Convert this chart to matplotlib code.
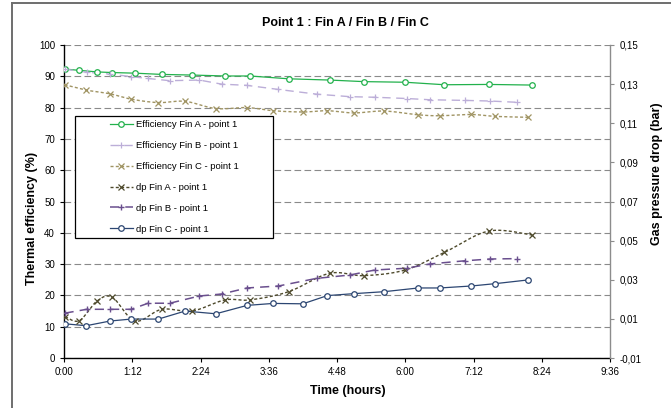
import numpy as np
import matplotlib
matplotlib.use("Agg")
import matplotlib.pyplot as plt
from matplotlib.lines import Line2D
from matplotlib.patches import Rectangle
from matplotlib.ticker import FuncFormatter

plt.rcParams['font.family'] = ['Liberation Sans', 'DejaVu Sans']

# ---------------- data ----------------
title = "Point 1 : Fin A / Fin B / Fin C"
xlabel = "Time (hours)"
ylabel_left = "Thermal efficiency (%)"
ylabel_right = "Gas pressure drop (bar)"

series_labels = ["Efficiency Fin A - point 1", "Efficiency Fin B - point 1",
                 "Efficiency Fin C - point 1", "dp Fin A - point 1",
                 "dp Fin B - point 1", "dp Fin C - point 1"]

# time in hours
t_A = [0.02, 0.27, 0.58, 0.85, 1.25, 1.72, 2.25, 2.83, 3.27, 3.95, 4.67, 5.27, 6.00, 6.69, 7.47, 8.23]
eff_A = [92.3, 91.9, 91.4, 91.2, 91.0, 90.6, 90.4, 90.1, 90.1, 89.2, 88.8, 88.3, 88.1, 87.3, 87.4, 87.2]
dp_A = [0.0111, 0.0091, 0.0191, 0.0210, 0.0089, 0.0149, 0.0140, 0.0197, 0.0197, 0.0239,
        0.0333, 0.0321, 0.0350, 0.0440, 0.0549, 0.0529]

t_B = [0.01, 0.40, 0.81, 1.18, 1.48, 1.86, 2.38, 2.77, 3.22, 3.77, 4.44, 5.02, 5.47, 6.03, 6.44, 7.05, 7.49, 7.96]
eff_B = [92.3, 91.3, 90.7, 89.9, 89.3, 88.6, 88.8, 87.5, 87.1, 85.8, 84.3, 83.5, 83.3, 82.9, 82.5, 82.3, 82.1, 81.7]
dp_B = [0.0129, 0.0149, 0.0149, 0.0149, 0.0180, 0.0180, 0.0217, 0.0227, 0.0258, 0.0268,
        0.0307, 0.0324, 0.0350, 0.0359, 0.0381, 0.0397, 0.0406, 0.0408]

t_C = [0.01, 0.39, 0.81, 1.18, 1.66, 2.13, 2.67, 3.22, 3.68, 4.20, 4.63, 5.10, 5.63, 6.23, 6.61, 7.16, 7.58, 8.16]
eff_C = [87.3, 85.6, 84.4, 82.7, 81.6, 82.0, 79.7, 80.0, 79.0, 78.6, 79.0, 78.3, 78.9, 77.7, 77.4, 77.8, 77.2, 76.9]
dp_C = [0.0075, 0.0065, 0.0089, 0.0099, 0.0099, 0.0140, 0.0126, 0.0169, 0.0179, 0.0177,
        0.0219, 0.0229, 0.0239, 0.0258, 0.0258, 0.0268, 0.0280, 0.0299]

x_ticks_hours = [0, 1.2, 2.4, 3.6, 4.8, 6.0, 7.2, 8.4, 9.6]
left_ticks = [0, 10, 20, 30, 40, 50, 60, 70, 80, 90, 100]
right_ticks = [-0.01, 0.01, 0.03, 0.05, 0.07, 0.09, 0.11, 0.13, 0.15]


def smooth(x, y, n=24):
    """Excel-like smoothed line (Bezier / Catmull-Rom)."""
    P = np.column_stack([np.asarray(x, float), np.asarray(y, float)])
    E = np.vstack([P[0], P, P[-1]])
    out = []
    t = np.linspace(0, 1, n)[:, None]
    for i in range(len(P) - 1):
        p0, p1, p2, p3 = E[i], E[i + 1], E[i + 2], E[i + 3]
        b1 = p1 + (p2 - p0) / 6
        b2 = p2 - (p3 - p1) / 6
        seg = (1 - t) ** 3 * p1 + 3 * (1 - t) ** 2 * t * b1 + 3 * (1 - t) * t ** 2 * b2 + t ** 3 * p2
        out.append(seg if i == 0 else seg[1:])
    s = np.vstack(out)
    return s[:, 0], s[:, 1]


W, H = 671, 408
fig = plt.figure(figsize=(W / 100, H / 100), dpi=100)
ax = fig.add_axes([64 / W, (H - 358) / H, (610 - 64) / W, (358 - 45) / H])
ax2 = ax.twinx()

styles = [
    dict(color='#22B14C', ls='-', lw=0.9, marker='o', ms=4.0, mfc='white', mew=0.9, smooth=False),
    dict(color='#BCAED8', ls=(0, (6, 4)), lw=1.0, marker='+', ms=5, mfc='none', mew=0.9, smooth=False),
    dict(color='#A09463', ls=(0, (2.2, 1.6)), lw=1.0, marker='x', ms=4, mfc='none', mew=0.9, smooth=True),
    dict(color='#4E4A2C', ls=(0, (2.2, 1.6)), lw=1.0, marker='x', ms=4, mfc='none', mew=0.9, smooth=True),
    dict(color='#6A4F8E', ls=(0, (6, 4)), lw=1.1, marker='+', ms=5, mfc='none', mew=1.0, smooth=False),
    dict(color='#2C4672', ls='-', lw=0.9, marker='o', ms=4.0, mfc='white', mew=0.9, smooth=False),
]
data = [(ax, t_A, eff_A), (ax, t_B, eff_B), (ax, t_C, eff_C),
        (ax2, t_A, dp_A), (ax2, t_B, dp_B), (ax2, t_C, dp_C)]

handles = []
for (a, x, y), st in zip(data, styles):
    if st['smooth']:
        sx, sy = smooth(x, y)
    else:
        sx, sy = x, y
    a.plot(sx, sy, color=st['color'], ls=st['ls'], lw=st['lw'], zorder=3)
    a.plot(x, y, ls='none', marker=st['marker'], ms=st['ms'], mfc=st['mfc'],
           mec=st['color'], mew=st['mew'], zorder=4)
    handles.append(Line2D([], [], color=st['color'], ls=st['ls'], lw=st['lw'],
                          marker=st['marker'], ms=st['ms'], mfc=st['mfc'],
                          mec=st['color'], mew=st['mew']))

# axes limits / ticks
ax.set_xlim(0, 9.6)
ax.set_ylim(0, 100)
ax2.set_ylim(-0.01, 0.15)
ax.set_xticks(x_ticks_hours)
ax.set_yticks(left_ticks)
ax2.set_yticks(right_ticks)


def hfmt(v, pos):
    m = int(round(v * 60))
    return f"{m // 60}:{m % 60:02d}"


ax.xaxis.set_major_formatter(FuncFormatter(hfmt))
ax2.yaxis.set_major_formatter(FuncFormatter(lambda v, p: f"{v:.2f}".replace('.', ',')))

ax.tick_params(axis='both', labelsize=7, length=3, width=0.8, direction='out', pad=3.5, colors='black')
ax2.tick_params(axis='y', labelsize=7, length=3, width=0.8, direction='out', pad=4, color='#8c8c8c',
                labelcolor='black')

for s in ['top', 'right']:
    ax.spines[s].set_visible(False)
ax2.spines['top'].set_visible(False)
ax2.spines['left'].set_visible(False)
ax2.spines['bottom'].set_visible(False)
ax2.spines['right'].set_color('#8c8c8c')
ax2.spines['right'].set_linewidth(1.0)
ax.spines['left'].set_linewidth(1.0)
ax.spines['bottom'].set_linewidth(1.0)

ax.yaxis.grid(True, color='#8a8a8a', ls=(0, (6, 3)), lw=0.8)
ax.set_axisbelow(True)

# labels
ax.set_xlabel(xlabel, fontsize=9, fontweight='bold', va='center')
ax.xaxis.set_label_coords((348 - 64) / 546, (358 - 391) / 313)
ax.set_ylabel(ylabel_left, fontsize=9, fontweight='bold', va='center')
ax.yaxis.set_label_coords((32 - 64) / 546, (358 - 218) / 313)
ax2.set_ylabel(ylabel_right, fontsize=9, fontweight='bold', va='center', rotation=90)
ax2.yaxis.set_label_coords((657 - 64) / 546, (358 - 174) / 313)

fig.text(345 / W, 1 - 23 / H, title, ha='center', va='center', fontsize=9, fontweight='bold')

# chart-area border (left and top edges visible)
fig.add_artist(Line2D([12 / W, 12 / W], [0, 1 - 3 / H], transform=fig.transFigure,
                      color='#6e6e6e', lw=1.4))
fig.add_artist(Line2D([12 / W, 1], [1 - 3 / H, 1 - 3 / H], transform=fig.transFigure,
                      color='#6e6e6e', lw=1.4))

# legend box
lx0, ly0, lx1, ly1 = 75, 116, 273, 238
fig.add_artist(Rectangle((lx0 / W, 1 - ly1 / H), (lx1 - lx0) / W, (ly1 - ly0) / H,
                         transform=fig.transFigure, facecolor='white', edgecolor='black',
                         lw=0.9, zorder=5))
leg = fig.legend(handles, series_labels, loc='center',
                 bbox_to_anchor=((lx0 + lx1) / 2 / W, 1 - (ly0 + ly1) / 2 / H),
                 frameon=False, fontsize=6.8, handlelength=2.5, handletextpad=0.25,
                 labelspacing=1.25, borderpad=0)
leg.set_zorder(6)

fig.savefig("out.png", dpi=100)
